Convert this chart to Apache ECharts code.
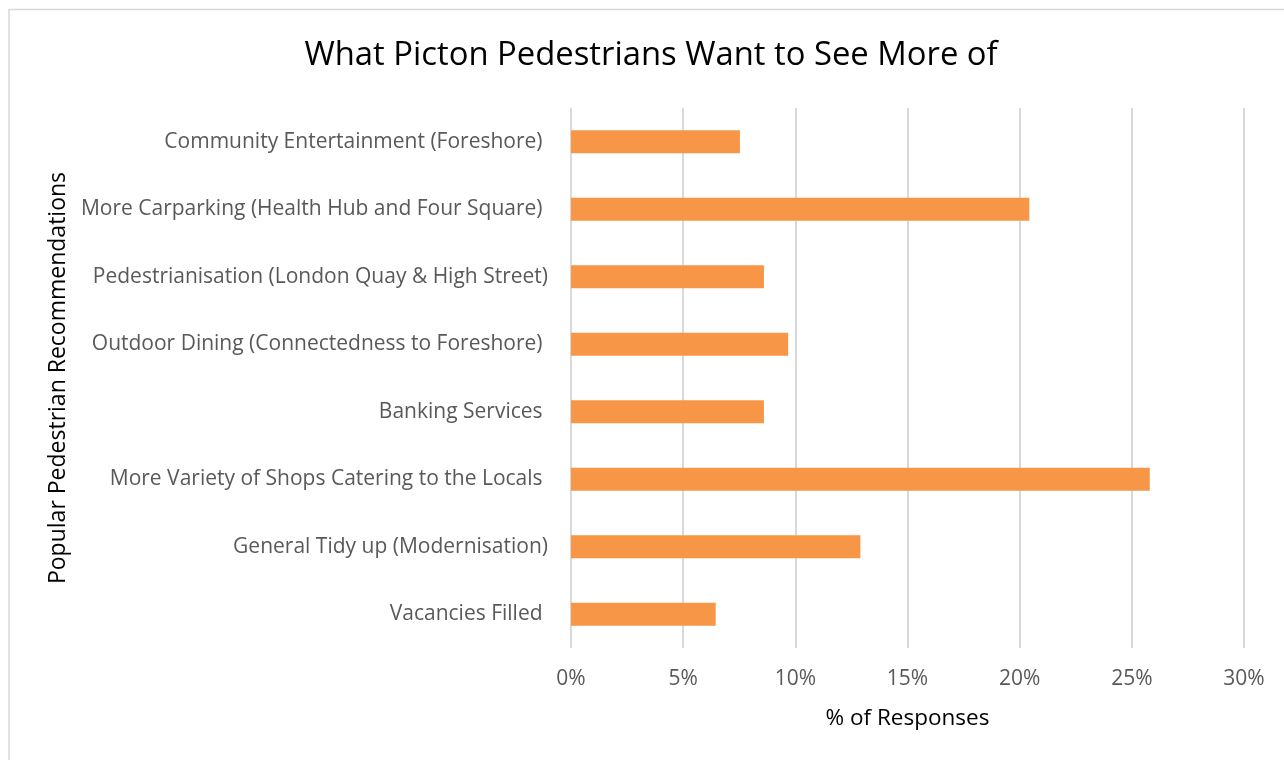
<!DOCTYPE html>
<html>
<head>
<meta charset="utf-8">
<script src="https://cdn.jsdelivr.net/npm/echarts@6/dist/echarts.min.js"></script>
<style>
  html, body { margin: 0; padding: 0; background: #fff; }
  #chart { width: 1284px; height: 760px; }
</style>
</head>
<body>
<div id="chart"></div>
<script>
// Recommendations, listed bottom to top as they appear on the category axis
// (some entries carry a trailing space, as typed in the survey sheet)
const categories = [
  'Vacancies Filled ',
  'General Tidy up (Modernisation)',
  'More Variety of Shops Catering to the Locals ',
  'Banking Services ',
  'Outdoor Dining (Connectedness to Foreshore) ',
  'Pedestrianisation (London Quay & High Street)',
  'More Carparking (Health Hub and Four Square) ',
  'Community Entertainment (Foreshore) '
];
// Share of responses, in percent
const shares = [6.45, 12.9, 25.8, 8.6, 9.68, 8.6, 20.43, 7.53];
const xTicks = [0, 5, 10, 15, 20, 25, 30];
const titleText = 'What Picton Pedestrians Want to See More of';

const FONT = '"Open Sans", sans-serif';
const chart = echarts.init(document.getElementById('chart'), null, { renderer: 'canvas' });

chart.setOption({
  animation: false,
  backgroundColor: '#ffffff',
  graphic: [{
    type: 'rect',
    shape: { x: 9, y: 9.5, width: 1400, height: 900 },
    style: { fill: 'none', stroke: '#d9d9d9', lineWidth: 1.5 },
    silent: true
  }, {
    // chart title, centred over the whole chart frame
    type: 'text',
    x: 651,
    y: 56,
    style: {
      text: titleText,
      fill: '#000000',
      font: '32.8px "Open Sans", sans-serif',
      textAlign: 'center',
      textVerticalAlign: 'middle'
    },
    silent: true
  }],
  grid: { left: 571, right: 40, top: 108, bottom: 112, containLabel: false },
  xAxis: {
    type: 'value',
    min: xTicks[0],
    max: xTicks[xTicks.length - 1],
    interval: 5,
    name: '% of Responses',
    nameLocation: 'middle',
    nameGap: 59,
    nameTextStyle: { fontFamily: FONT, fontSize: 22.5, color: '#000000' },
    axisLine: { show: false },
    axisTick: { show: false },
    axisLabel: {
      formatter: v => v + '%',
      margin: 21,
      fontFamily: FONT, fontSize: 21, color: '#595959'
    },
    splitLine: { show: true, lineStyle: { color: '#d9d9d9', width: 2 } }
  },
  yAxis: {
    type: 'category',
    data: categories,
    name: 'Popular Pedestrian Recommendations',
    nameLocation: 'middle',
    nameGap: 496,
    nameRotate: 90,
    nameTextStyle: { fontFamily: FONT, fontSize: 23, color: '#000000' },
    axisLine: { show: false },
    axisTick: { show: false },
    axisLabel: {
      margin: 23,
      fontFamily: FONT, fontSize: 21, color: '#595959'
    }
  },
  series: [{
    type: 'bar',
    data: shares,
    barWidth: '34%',
    itemStyle: { color: '#F79646' }
  }]
});
</script>
</body>
</html>
